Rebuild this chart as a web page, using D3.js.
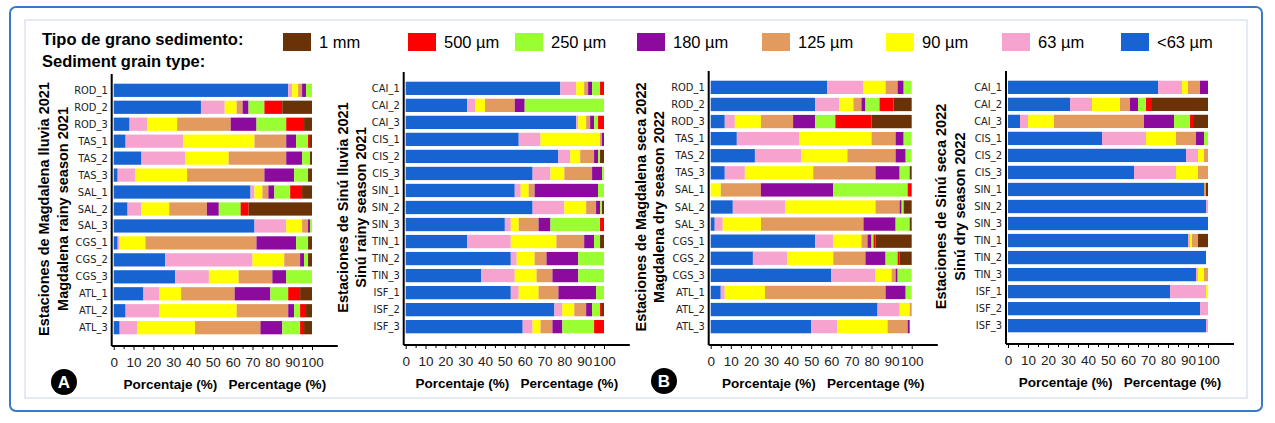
<!DOCTYPE html>
<html><head><meta charset="utf-8">
<script src="https://cdn.jsdelivr.net/npm/d3@7"></script>
<style>body{margin:0;background:#fff;}svg{display:block;font-family:"Liberation Sans",Arial,sans-serif;}</style>
</head><body><svg id="c" width="1275" height="423"></svg>
<script>
const grainTypes = ["<63 µm","63 µm","90 µm","125 µm","180 µm","250 µm","500 µm","1 mm"];
const grainColors = ["#1763d1","#f7a3d0","#ffff00","#e39a5e","#8c0a9e","#99ff33","#ff0000","#6b3208"];
const legendOrder = ["1 mm","500 µm","250 µm","180 µm","125 µm","90 µm","63 µm","<63 µm"];
const xTicks = [0,10,20,30,40,50,60,70,80,90,100];

const stationsMag = ["ROD_1","ROD_2","ROD_3","TAS_1","TAS_2","TAS_3","SAL_1","SAL_2","SAL_3","CGS_1","CGS_2","CGS_3","ATL_1","ATL_2","ATL_3"];
const stationsSinu = ["CAI_1","CAI_2","CAI_3","CIS_1","CIS_2","CIS_3","SIN_1","SIN_2","SIN_3","TIN_1","TIN_2","TIN_3","ISF_1","ISF_2","ISF_3"];

// values per station: <63, 63, 90, 125, 180, 250, 500, 1mm
const magRainy2021 = [
 [88,2,3,2,2,3,0,0],[44,12,6,3,3,8,9,15],[8,9,15,27,13,15,9,4],[6,29,36,16,5,6,1,1],
 [14,22,22,29,8,4,0,1],[2,9,26,39,15,7,0,2],[69,2,4,3,3,8,6,5],[7,7,14,19,6,11,4,32],
 [71,16,8,3,1,1,0,0],[2,1,13,56,20,6,0,2],[26,44,16,8,2,2,0,2],[31,17,15,17,7,13,0,0],
 [15,8,11,27,18,9,6,6],[6,17,39,26,3,3,3,3],[3,9,29,33,11,9,2,4]];
const sinuRainy2021 = [
 [78,8,4,2,2,4,2,0],[31,4,5,15,5,40,0,0],[86,1,4,2,2,2,3,0],[57,11,30,1,1,0,0,0],
 [77,6,5,7,2,1,0,2],[64,9,7,14,5,1,0,0],[55,3,4,3,32,3,0,0],[64,16,11,5,2,1,0,1],
 [50,3,4,10,6,25,2,0],[31,22,23,14,5,3,0,2],[53,3,9,6,16,13,0,0],[38,17,11,8,13,13,0,0],
 [53,4,10,10,19,4,0,0],[75,4,6,6,3,4,1,1],[59,5,4,6,5,16,5,0]];
const magDry2022 = [
 [58,18,11,6,3,4,0,0],[52,12,7,4,2,7,7,9],[7,5,13,16,11,10,18,20],[13,31,36,12,4,4,0,0],
 [22,23,23,24,5,3,0,0],[7,10,34,31,12,5,0,1],[0,0,5,20,36,37,2,0],[11,26,45,12,1,1,0,4],
 [2,4,19,51,16,7,0,1],[52,9,14,3,2,1,1,18],[21,17,23,16,10,6,1,6],[60,22,8,2,1,7,0,0],
 [5,2,20,60,10,3,0,0],[83,11,5,1,0,0,0,0],[50,13,25,10,1,0,0,0]];
const sinuDry2022 = [
 [75,12,3,6,4,0,0,0],[31,11,14,5,4,4,3,28],[6,4,13,45,15,8,2,7],[47,22,15,10,4,2,0,0],
 [89,6,3,2,0,0,0,0],[63,21,11,5,0,0,0,0],[98,0,0,1,0,0,0,1],[99,1,0,0,0,0,0,0],
 [100,0,0,0,0,0,0,0],[90,1,1,3,0,0,0,5],[99,0,0,0,0,0,0,0],[94,1,3,2,0,0,0,0],
 [81,18,1,0,0,0,0,0],[96,4,0,0,0,0,0,0],[99,1,0,0,0,0,0,0]];

const svg = d3.select("#c");
svg.append("rect").attr("x",10).attr("y",7).attr("width",1252).attr("height",404).attr("rx",6)
  .attr("fill","#fff").attr("stroke","#3a78c8").attr("stroke-width",2);
svg.append("rect").attr("x",25).attr("y",20).attr("width",1222).attr("height",378)
  .attr("fill","none").attr("stroke","#c8d6ea").attr("stroke-width",1);

svg.append("text").attr("x",42).attr("y",45).attr("font-size",16.5).attr("font-weight","bold").text("Tipo de grano sedimento:");
svg.append("text").attr("x",42).attr("y",67).attr("font-size",16.5).attr("font-weight","bold").text("Sediment grain type:");
const legX = [283,408,515,637,762,886,1002,1121];
legendOrder.forEach((g,i)=>{
  const ci = grainTypes.indexOf(g);
  svg.append("rect").attr("x",legX[i]).attr("y",33).attr("width",28).attr("height",18).attr("fill",grainColors[ci]);
  svg.append("text").attr("x",legX[i]+36).attr("y",48).attr("font-size",16.5).text(g);
});

const panels = [
 {cats:stationsMag,data:magRainy2021,x0:113.7,x1:312,y0:82,y1:336,t:["Estaciones de Magdalena lluvia 2021","Magdalena rainy season 2021"],tx:[44,63]},
 {cats:stationsSinu,data:sinuRainy2021,x0:405.7,x1:604,y0:80,y1:335,t:["Estaciones de Sinú lluvia 2021","Sinú rainy season 2021"],tx:[343,361]},
 {cats:stationsMag,data:magDry2022,x0:710.7,x1:911.7,y0:79,y1:335,t:["Estaciones de Magdalena seca 2022","Magdalena dry season 2022"],tx:[641,659]},
 {cats:stationsSinu,data:sinuDry2022,x0:1008,x1:1208,y0:79,y1:334,t:["Estaciones de Sinú seca 2022","Sinú dry season 2022"],tx:[941,960]}
];

panels.forEach(p=>{
  const x = d3.scaleLinear().domain([0,100]).range([p.x0,p.x1]);
  const y = d3.scaleBand().domain(p.cats).range([p.y0,p.y1]).paddingInner(0.22).paddingOuter(0.1);
  const rows = p.data.map((r,i)=>{const o={cat:p.cats[i]};grainTypes.forEach((g,j)=>o[g]=r[j]);return o;});
  const stack = d3.stack().keys(grainTypes)(rows);
  const g = svg.append("g");
  stack.forEach((layer,li)=>{
    g.selectAll(null).data(layer).join("rect")
      .attr("x",d=>x(d[0])).attr("width",d=>Math.max(0,x(d[1])-x(d[0])))
      .attr("y",d=>y(d.data.cat)).attr("height",y.bandwidth())
      .attr("fill",grainColors[li]);
  });
  const ya = g.append("g").attr("transform",`translate(${p.x0-2},0)`)
    .call(d3.axisLeft(y).tickSize(0).tickPadding(4));
  ya.select(".domain").remove();
  ya.selectAll("text").attr("font-size",11).attr("font-family","'DejaVu Sans Condensed','DejaVu Sans',sans-serif").attr("fill","#222");
  g.append("line").attr("x1",p.x0-2).attr("x2",p.x0-2).attr("y1",p.y0-8).attr("y2",p.y1+10).attr("stroke","#000").attr("stroke-width",2);
  const ax = p.y1+10;
  const xa = g.append("g").attr("transform",`translate(0,${ax})`)
    .call(d3.axisBottom(x).tickValues(xTicks).tickSize(4).tickFormat(d3.format("d")));
  xa.select(".domain").remove();
  g.append("line").attr("x1",p.x0-2).attr("x2",x(113)).attr("y1",ax).attr("y2",ax).attr("stroke","#000").attr("stroke-width",2);
  g.append("g").attr("transform",`translate(0,${ax})`)
    .call(d3.axisBottom(x).tickValues(d3.range(5,101,10)).tickSize(3).tickFormat(""))
    .select(".domain").remove();
  xa.selectAll("text").attr("font-size",13.5).attr("dy","1.05em").attr("fill","#222");
  g.append("text").attr("x",(p.x0+p.x1)/2+12).attr("y",ax+43).attr("text-anchor","middle")
    .attr("font-size",13.5).attr("font-weight","bold").attr("xml:space","preserve").text("Porcentaje (%)   Percentage (%)");
  p.t.forEach((t,i)=>{
    g.append("text").attr("transform",`translate(${p.tx[i]+5},${(p.y0+p.y1)/2}) rotate(-90)`)
      .attr("text-anchor","middle").attr("font-size",14.5).attr("font-weight","bold").text(t);
  });
});

[["A",64,382],["B",664,381]].forEach(([l,cx,cy])=>{
  svg.append("circle").attr("cx",cx).attr("cy",cy).attr("r",13).attr("fill","#000");
  svg.append("text").attr("x",cx).attr("y",cy+6).attr("text-anchor","middle").attr("fill","#fff")
    .attr("font-size",17).attr("font-weight","bold").text(l);
});
</script></body></html>
